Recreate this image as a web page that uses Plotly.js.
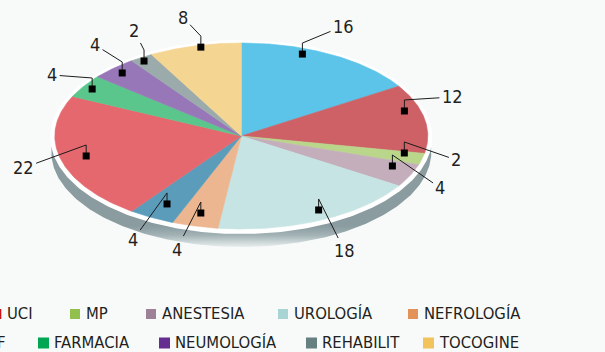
<!DOCTYPE html>
<html>
<head>
<meta charset="utf-8">
<script src="https://cdn.plot.ly/plotly-3.0.1.min.js"></script>
<style>
  html, body { margin: 0; padding: 0; background: #f8fafa; }
  #chart { width: 605px; height: 352px; }
</style>
</head>
<body>
<div id="chart"></div>
<script>
// slices, clockwise from 12 o'clock
const services = ['S1', 'UCI', 'MP', 'ANESTESIA', 'UROLOGÍA', 'NEFROLOGÍA', 'S7', 'F', 'FARMACIA', 'NEUMOLOGÍA', 'REHABILIT', 'TOCOGINE'];
const counts = [16, 12, 2, 4, 18, 4, 4, 22, 4, 4, 2, 8];
const sliceColors = ['#5bc4e8', '#cd6166', '#bad68b', '#c4aebc', '#c5e4e3', '#ecb690',
  '#5b9cba', '#e4686d', '#5bc68b', '#9877b8', '#9babab', '#f5d592'];
const legendColors = ['#00b0f0', '#c4161c', '#92c04f', '#9e8197', '#a8d5d4', '#e3935a',
  '#31849b', '#e0303a', '#00a651', '#662d91', '#667f81', '#f2c35c'];

// legend rows (indices into services) as laid out in the picture
const legendRow1 = [1, 2, 3, 4, 5];
const legendRow2 = [7, 8, 9, 10, 11];

// layout: where the callout sits inside each slice, and where its number goes
const calloutFrac = [0.354, 0.354, 0.14, 0.257, 0.464, 0.52, 0.486, 0.499, 0.493, 0.493, 0.43, 0.556];
const calloutR = [0.94, 0.915, 0.893, 0.872, 0.897, 0.856, 0.832, 0.859, 0.946, 0.931, 0.96, 0.98];
const labelAx = [41, 48, 52, 48, 26, -24, -34, -63, -40, -27, -10, -18];
const labelAy = [-17, -3, 18, 33, 52, 47, 47, 23, -3, -17, -20, -19];
const legendX1 = [-8.7, 70, 146, 278, 408];
const legendX2 = [-19, 38, 159, 306, 423];

const W = 605, H = 352;
const cx = 241.3, cy = 136, rx = 186.5, ry = 93;
const toX = (px) => (px - cx) / rx;
const toY = (py) => (cy - py) / ry;

function ellipse(sx, sy, dy) {
  const x = [], y = [];
  for (let i = 0; i <= 360; i++) {
    const a = i * Math.PI / 180;
    x.push(sx * Math.sin(a));
    y.push(sy * Math.cos(a) + dy);
  }
  return { x, y };
}

function wedge(a0, a1) {
  const x = [0], y = [0];
  const n = Math.max(2, Math.ceil((a1 - a0) / 0.01));
  for (let i = 0; i <= n; i++) {
    const a = a0 + (a1 - a0) * i / n;
    x.push(Math.sin(a));
    y.push(Math.cos(a));
  }
  x.push(0); y.push(0);
  return { x, y };
}

const total = counts.reduce((s, v) => s + v, 0);
const traces = [];

const shadow = ellipse(190 / rx, 95 / ry, toY(152));
traces.push({
  type: 'scatter', mode: 'lines', x: shadow.x, y: shadow.y, fill: 'toself',
  line: { width: 0, color: 'rgba(0,0,0,0)' },
  fillgradient: {
    type: 'vertical', start: toY(249), stop: toY(226),
    colorscale: [[0, '#f2f5f5'], [0.25, '#d3dcdd'], [0.6, '#a2b2b5'], [1, '#8a9ca0']],
  },
  hoverinfo: 'skip',
});

const rim = ellipse(191 / rx, 97 / ry, toY(137));
traces.push({
  type: 'scatter', mode: 'lines', x: rim.x, y: rim.y, fill: 'toself', fillcolor: '#ffffff',
  line: { width: 0, color: '#ffffff' }, hoverinfo: 'skip',
});

let start = 0;
const mx = [], my = [], stubX = [], stubY = [], annotations = [];
counts.forEach((v, i) => {
  const a0 = start / total * 2 * Math.PI;
  const a1 = (start + v) / total * 2 * Math.PI;
  const w = wedge(a0, a1);
  traces.push({
    type: 'scatter', mode: 'lines', x: w.x, y: w.y, fill: 'toself', name: services[i],
    fillcolor: sliceColors[i], line: { width: 0.6, color: sliceColors[i] },
    hoverinfo: 'name',
  });
  const am = (start + calloutFrac[i] * v) / total * 2 * Math.PI;
  const x = calloutR[i] * Math.sin(am);
  const y = calloutR[i] * Math.cos(am);
  const ye = y + 11 / ry;
  mx.push(x); my.push(y);
  stubX.push(x, x, null); stubY.push(y, ye, null);
  annotations.push({
    x, y: ye, ax: labelAx[i], ay: labelAy[i], text: String(v),
    showarrow: true, arrowhead: 0, arrowwidth: 1, arrowcolor: '#1c1c1c', startstandoff: 1,
    font: { size: 18, color: '#231f20' },
  });
  start += v;
});

traces.push({
  type: 'scatter', mode: 'lines', x: stubX, y: stubY,
  line: { width: 1, color: '#1c1c1c' }, hoverinfo: 'skip',
});
traces.push({
  type: 'scatter', mode: 'markers', x: mx, y: my,
  marker: { symbol: 'square', size: 7, color: '#000000' }, hoverinfo: 'skip',
});

// legend drawn by hand so the rows can run off both edges as in the picture
const shapes = [];
function legendRow(items, xs, py, box) {
  items.forEach((idx, k) => {
    const x0 = xs[k];
    shapes.push({
      type: 'rect', xref: 'paper', yref: 'paper', layer: 'above',
      x0: x0 / W, x1: (x0 + box) / W, y0: 1 - (py + box / 2) / H, y1: 1 - (py - box / 2) / H,
      fillcolor: legendColors[idx], line: { width: 0 },
    });
    annotations.push({
      xref: 'paper', yref: 'paper',
      x: (x0 + 14) / W, y: 1 - (py - 1) / H, xanchor: 'left', yanchor: 'middle',
      text: services[idx], showarrow: false,
      font: { size: 16.5, color: '#231f20' },
    });
  });
}
legendRow(legendRow1, legendX1, 314, 10);
legendRow(legendRow2, legendX2, 343, 11);

const fontFamily = '"Liberation Sans Narrow", "DejaVu Sans Condensed", "Roboto Condensed", Roboto, sans-serif';

Plotly.newPlot('chart', traces, {
  width: W, height: H,
  margin: { l: 0, r: 0, t: 0, b: 0 },
  paper_bgcolor: '#f8fafa', plot_bgcolor: '#f8fafa',
  font: { family: fontFamily },
  showlegend: false,
  xaxis: { range: [toX(0), toX(W)], visible: false, fixedrange: true },
  yaxis: { range: [toY(H), toY(0)], visible: false, fixedrange: true },
  annotations, shapes,
}, { displayModeBar: false, staticPlot: true });
</script>
</body>
</html>
